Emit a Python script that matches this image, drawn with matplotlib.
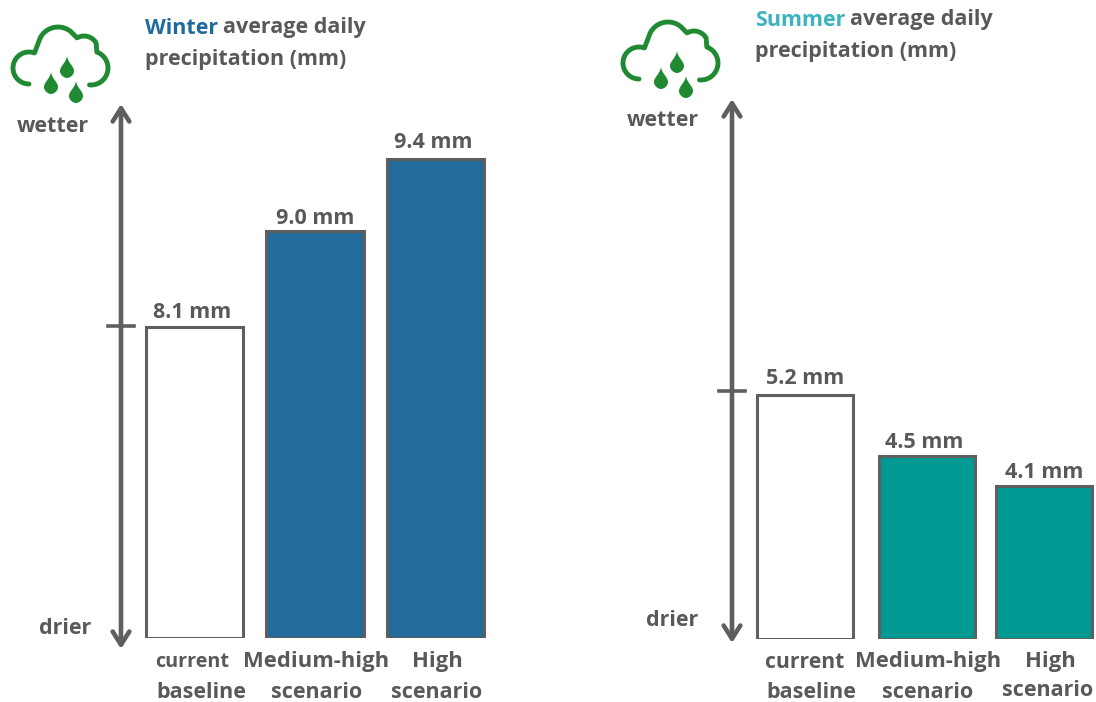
import numpy as np
import matplotlib
matplotlib.use("Agg")
import matplotlib.pyplot as plt
from matplotlib.path import Path
from matplotlib.patches import PathPatch

plt.rcParams['font.family'] = ['Open Sans', 'DejaVu Sans']

W, H = 1096, 702
grey = "#595959"
green = "#1f8a32"

# bar heights (the bars are not drawn to zero)
winter_heights = [311, 407, 479]
winter_labels = ["8.1 mm", "9.0 mm", "9.4 mm"]
winter_colors = ["white", "#236b9a", "#236b9a"]

summer_heights = [244, 183, 153]
summer_labels = ["5.2 mm", "4.5 mm", "4.1 mm"]
summer_colors = ["white", "#009a93", "#009a93"]

categories = ["current\nbaseline", "Medium-high\nscenario", "High\nscenario"]


def draw_bars(rect, x, heights, labels, colors, lab_dx, lab_dy):
    ax = fig.add_axes([rect[0] / W, 1 - rect[3] / H, (rect[1] - rect[0]) / W, (rect[3] - rect[2]) / H])
    ax.bar(x, heights, width=0.805, color=colors, edgecolor="#5f5f5f", linewidth=2.2)
    ax.set_xlim(-0.5, 2.5)
    ax.set_ylim(0, rect[3] - rect[2])
    ax.axis("off")
    for i, lab in enumerate(labels):
        ax.text(x[i] + lab_dx[i], heights[i] + lab_dy[i], lab, ha="center", va="center", fontsize=15.5,
                color=grey, fontweight="bold")
    return ax


def drop(cx, cy, w=7, h=11):
    verts = [(cx, cy - h), (cx + 1, cy - 4), (cx + w, cy - 1), (cx + w, cy + 4),
             (cx + w, cy + 8), (cx + 3, cy + h), (cx, cy + h),
             (cx - 3, cy + h), (cx - w, cy + 8), (cx - w, cy + 4),
             (cx - w, cy - 1), (cx - 1, cy - 4), (cx, cy - h)]
    codes = [Path.MOVETO] + [Path.CURVE4] * 12
    return PathPatch(Path(verts, codes), fc=green, ec="none")


def arc(cx, cy, r, t0, t1):
    t = np.radians(np.linspace(t0, t1, 40))
    return cx + r * np.cos(t), cy + r * np.sin(t)


def cloud(dx, dy):
    lobes = [(29, 68, 16, 90, 290), (58, 47, 20, 195, 310), (84, 50, 14, 240, 330), (91, 68, 17, 290, 455)]
    xs, ys = [], []
    for c in lobes:
        a, b = arc(*c)
        xs.append(a)
        ys.append(b)
    over.plot(np.concatenate(xs) + dx, np.concatenate(ys) + dy, color=green, lw=3.5, solid_capstyle="round")
    for cx, cy in [(67, 67), (51, 83), (76, 92)]:
        over.add_patch(drop(cx + dx, cy + dy))


def updown(x, y0, y1, ytick):
    over.annotate("", xy=(x, y0), xytext=(x, y1),
                  arrowprops=dict(arrowstyle="<->,head_length=0.95,head_width=0.6", color="#5f5f5f", lw=3.3,
                                  shrinkA=0, shrinkB=0))
    over.plot([x - 13, x + 13], [ytick, ytick], color="#5f5f5f", lw=2.6)


def title(x, y0, y1, season, color):
    t = over.text(x, y0, season, color=color, fontsize=15.5, fontweight="bold", va="center")
    bb = t.get_window_extent(fig.canvas.get_renderer())
    over.text(bb.x1 + 5, y0, "average daily", color=grey, fontsize=15.5, fontweight="bold", va="center")
    over.text(x, y1, "precipitation (mm)", color=grey, fontsize=15.5, fontweight="bold", va="center")


fig = plt.figure(figsize=(W / 100, H / 100), dpi=100)

over = fig.add_axes([0, 0, 1, 1])
over.set_xlim(0, W)
over.set_ylim(H, 0)
over.axis("off")

draw_bars((134, 496, 100, 638), [0, 1, 2], winter_heights, winter_labels, winter_colors,
          [-0.02, 0, -0.02], [14, 12, 17])
draw_bars((745, 1105, 100, 639), [0, 1.016, 1.992], summer_heights, summer_labels, summer_colors,
          [0, -0.02, 0], [17, 14, 14])

cloud(0, 0)
cloud(610, -5)

updown(121, 104, 649, 326)
updown(732, 99, 643, 391)

title(145, 28, 59, "Winter", "#1f6b9e")
title(755, 20, 51, "Summer", "#3cb3bf")

for x, y, s in [(53, 126, "wetter"), (65, 629, "drier"), (663, 120, "wetter"), (672, 620, "drier")]:
    over.text(x, y, s, ha="center", va="center", fontsize=15.5, color=grey, fontweight="bold")

# category labels sit a bit unevenly in the original, "current" is also smaller
left_pos = [(192, 201), (316, 317), (437, 437)]
right_pos = [(805, 811), (928, 928), (1050, 1048)]
right_y = [(662, 693), (662, 692), (661, 691)]
left_size = [14.2, 15.8, 15.8]
right_size = [15.2, 15.8, 15.8]
for i, cat in enumerate(categories):
    a, b = cat.split("\n")
    over.text(left_pos[i][0], 662, a, ha="center", va="center", fontsize=left_size[i], color=grey, fontweight="bold")
    over.text(left_pos[i][1], 693, b, ha="center", va="center", fontsize=15.5, color=grey, fontweight="bold")
    over.text(right_pos[i][0], right_y[i][0], a, ha="center", va="center", fontsize=right_size[i], color=grey, fontweight="bold")
    over.text(right_pos[i][1], right_y[i][1], b, ha="center", va="center", fontsize=15.5, color=grey, fontweight="bold")

fig.savefig("out.png", dpi=100)
